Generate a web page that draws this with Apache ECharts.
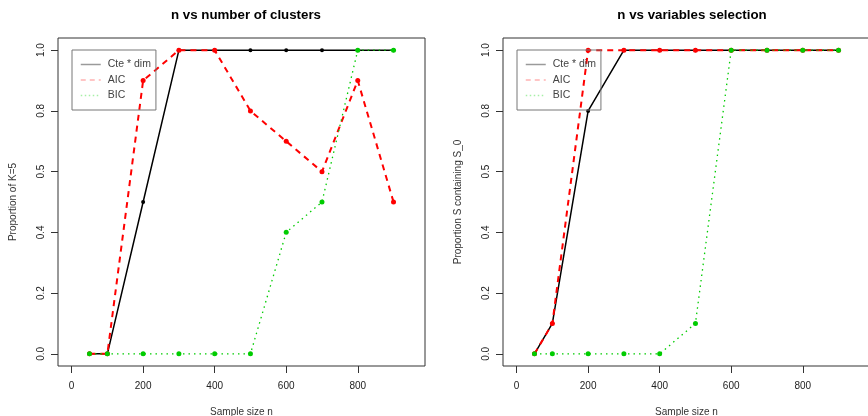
<!DOCTYPE html>
<html>
<head>
<meta charset="utf-8">
<script src="https://cdn.jsdelivr.net/npm/echarts@6/dist/echarts.min.js"></script>
<style>
  html, body { margin: 0; padding: 0; background: #fff; }
  #chart { width: 868px; height: 416px; }
</style>
</head>
<body>
<div id="chart"></div>
<script>
var sampleSize = [50, 100, 200, 300, 400, 500, 600, 700, 800, 900];

// left panel: proportion of K=5
var cteK = [0, 0, 0.5, 1, 1, 1, 1, 1, 1, 1];
var aicK = [0, 0, 0.9, 1, 1, 0.8, 0.7, 0.6, 0.9, 0.5];
var bicK = [0, 0, 0, 0, 0, 0, 0.4, 0.5, 1, 1];

// right panel: proportion S containing S_0
var cteS = [0, 0.1, 0.8, 1, 1, 1, 1, 1, 1, 1];
var aicS = [0, 0.1, 1, 1, 1, 1, 1, 1, 1, 1];
var bicS = [0, 0, 0, 0, 0, 0.1, 1, 1, 1, 1];

var xTicks = [0, 200, 400, 600, 800];
var yTicks = [0, 0.2, 0.4, 0.6, 0.8, 1.0];
var yTickLabels = ['0.0', '0.2', '0.4', '0.5', '0.8', '1.0'];

var names = ['Cte * dim', 'AIC', 'BIC'];

function pairs(ys) {
  return sampleSize.map(function (x, i) { return [x, ys[i]]; });
}

var font = 'Liberation Sans, Arial, sans-serif';

function xAxisFor(idx) {
  return {
    type: 'value', gridIndex: idx, min: -38, max: 988,
    name: 'Sample size n', nameLocation: 'middle', nameGap: 41,
    nameTextStyle: { fontFamily: font, fontSize: 10, color: '#333' },
    axisLine: { show: false, onZero: false },
    splitLine: { show: false },
    axisTick: { show: true, customValues: xTicks, length: 7, inside: false, lineStyle: { color: '#333' } },
    axisLabel: { customValues: xTicks, margin: 15, fontFamily: font, fontSize: 10, color: '#222' }
  };
}

function yAxisFor(idx, title) {
  return {
    type: 'value', gridIndex: idx, min: -0.04, max: 1.04,
    name: title, nameLocation: 'middle', nameGap: 40,
    nameTextStyle: { fontFamily: font, fontSize: 10, color: '#333' },
    axisLine: { show: false, onZero: false },
    splitLine: { show: false },
    axisTick: { show: true, customValues: yTicks, length: 7, inside: false, lineStyle: { color: '#333' } },
    axisLabel: {
      customValues: yTicks, rotate: 90, margin: 12, fontFamily: font, fontSize: 10, color: '#222',
      formatter: function (v) {
        var i = yTicks.findIndex(function (t) { return Math.abs(t - v) < 1e-9; });
        return i >= 0 ? yTickLabels[i] : '';
      }
    }
  };
}

function seriesFor(idx, cte, aic, bic) {
  return [
    {
      name: names[0], type: 'line', xAxisIndex: idx, yAxisIndex: idx, data: pairs(cte),
      symbol: 'circle', symbolSize: 4, itemStyle: { color: '#000' },
      lineStyle: { color: '#000', width: 1.5 }, animation: false
    },
    {
      name: names[1], type: 'line', xAxisIndex: idx, yAxisIndex: idx, data: pairs(aic),
      symbol: 'circle', symbolSize: 5, itemStyle: { color: '#ff0000' },
      lineStyle: { color: '#ff0000', width: 2, type: [6, 5] }, animation: false
    },
    {
      name: names[2], type: 'line', xAxisIndex: idx, yAxisIndex: idx, data: pairs(bic),
      symbol: 'circle', symbolSize: 5, itemStyle: { color: '#00cc00' },
      lineStyle: { color: '#00cc00', width: 1.3, type: [1.5, 4] }, animation: false
    }
  ];
}

function legendFor(left) {
  var light = ['#9a9a9a', '#ffb3b3', '#a6f0a6'];
  var types = ['solid', [5, 4], [1.5, 2.5]];
  return {
    orient: 'vertical', left: left, top: 50,
    padding: [9, 5, 9, 8],
    itemWidth: 20, itemHeight: 8, itemGap: 4.5,
    borderColor: '#777', borderWidth: 1, borderRadius: 0,
    textStyle: { fontFamily: font, fontSize: 10.5, color: '#444', padding: [0, 0, 0, 2] },
    selectedMode: false,
    data: names.map(function (n, i) {
      return { name: n, itemStyle: { opacity: 0 }, lineStyle: { color: light[i], width: 1.5, type: types[i] } };
    })
  };
}

var chart = echarts.init(document.getElementById('chart'));
chart.setOption({
  backgroundColor: '#fff',
  animation: false,
  title: [
    { text: 'n vs number of clusters', left: 241, top: 4, textAlign: 'center',
      textStyle: { fontFamily: font, fontSize: 13.3, fontWeight: 'bold', color: '#000' } },
    { text: 'n vs variables selection', left: 687, top: 4, textAlign: 'center',
      textStyle: { fontFamily: font, fontSize: 13.3, fontWeight: 'bold', color: '#000' } }
  ],
  legend: [legendFor(72), legendFor(517)],
  grid: [
    { left: 58, top: 38, width: 367, height: 328, outerBoundsMode: 'none', containLabel: false,
      show: true, borderColor: '#333', borderWidth: 1, backgroundColor: 'transparent' },
    { left: 503, top: 38, width: 367, height: 328, outerBoundsMode: 'none', containLabel: false,
      show: true, borderColor: '#333', borderWidth: 1, backgroundColor: 'transparent' }
  ],
  xAxis: [xAxisFor(0), xAxisFor(1)],
  yAxis: [yAxisFor(0, 'Proportion of K=5'), yAxisFor(1, 'Proportion S containing S_0')],
  series: seriesFor(0, cteK, aicK, bicK).concat(seriesFor(1, cteS, aicS, bicS))
});
</script>
</body>
</html>
